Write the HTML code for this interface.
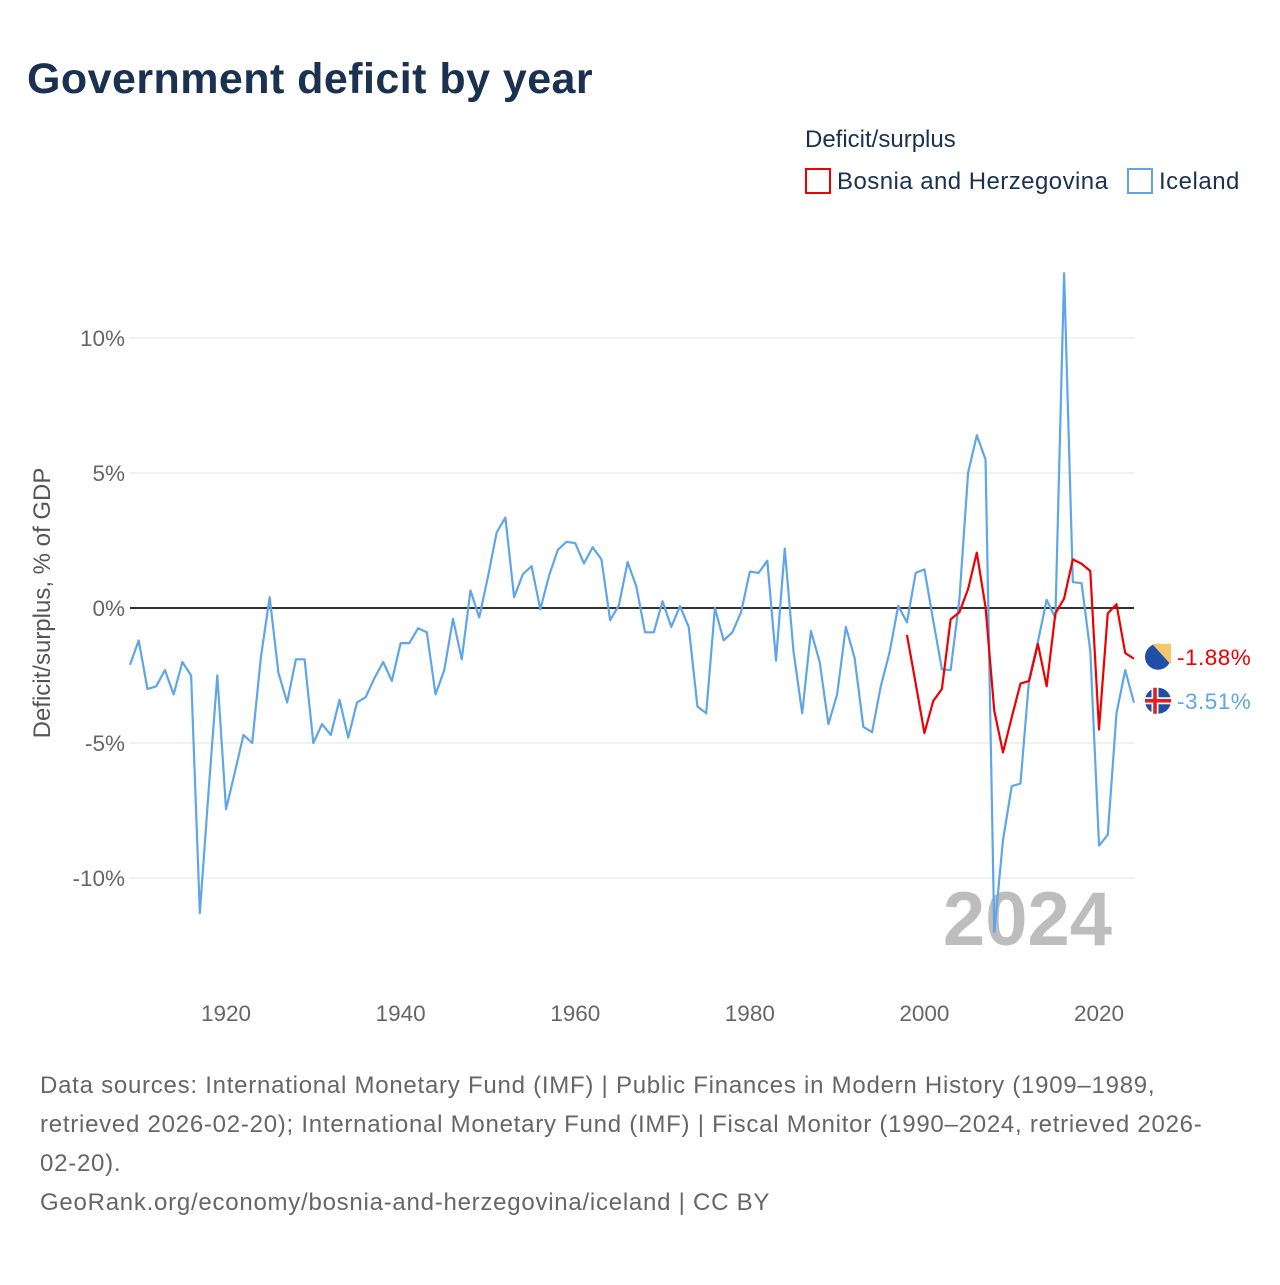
<!DOCTYPE html>
<html><head><meta charset="utf-8"><style>
body{margin:0;background:#fff;font-family:"Liberation Sans",sans-serif}
svg text{font-family:"Liberation Sans",sans-serif}
</style></head><body>
<svg id="chart" width="1280" height="1280" viewBox="0 0 1280 1280" xmlns="http://www.w3.org/2000/svg">
<text x="27" y="93" font-size="43" font-weight="bold" fill="#1b3150" letter-spacing="0.45">Government deficit by year</text>
<text x="805" y="147" font-size="24" fill="#1b3150">Deficit/surplus</text>
<g><rect x="806" y="169" width="24" height="24" fill="none" stroke="#e00" stroke-width="2"/><text x="837" y="189" font-size="24" fill="#1b3150" letter-spacing="0.45">Bosnia and Herzegovina</text></g>
<g><rect x="1128" y="169" width="24" height="24" fill="none" stroke="#5ea6e8" stroke-width="2"/><text x="1159" y="189" font-size="24" fill="#1b3150" letter-spacing="0.5">Iceland</text></g>
<g id="grid"></g>
<text transform="translate(50,603) rotate(-90)" text-anchor="middle" font-size="24" fill="#555">Deficit/surplus, % of GDP</text>
<text x="1112" y="945" text-anchor="end" font-size="76" font-weight="bold" fill="#bdbdbd">2024</text>
<g id="series"></g>
<g font-size="24" fill="#666" letter-spacing="0.75">
<text x="40" y="1093">Data sources: International Monetary Fund (IMF) | Public Finances in Modern History (1909–1989,</text>
<text x="40" y="1132">retrieved 2026-02-20); International Monetary Fund (IMF) | Fiscal Monitor (1990–2024, retrieved 2026-</text>
<text x="40" y="1171">02-20).</text>
<text x="40" y="1210">GeoRank.org/economy/bosnia-and-herzegovina/iceland | CC BY</text>
</g>
</svg>
<script>
const yTicks=[10,5,0,-5,-10];
const xTicks=[1920,1940,1960,1980,2000,2020];
const icelandStart=1909;
const icelandValues=[-2.1,-1.2,-3.0,-2.9,-2.3,-3.2,-2.0,-2.5,-11.3,-6.8,-2.5,-7.45,-6.1,-4.7,-5.0,-1.8,0.4,-2.4,-3.5,-1.9,-1.9,-5.0,-4.3,-4.7,-3.4,-4.8,-3.5,-3.3,-2.6,-2.0,-2.7,-1.3,-1.3,-0.75,-0.9,-3.2,-2.3,-0.4,-1.9,0.65,-0.35,1.15,2.8,3.35,0.4,1.25,1.55,-0.05,1.2,2.15,2.45,2.4,1.65,2.25,1.8,-0.45,0.1,1.7,0.8,-0.9,-0.9,0.25,-0.7,0.07,-0.7,-3.65,-3.9,0,-1.2,-0.9,-0.15,1.35,1.3,1.75,-1.95,2.2,-1.6,-3.9,-0.85,-2.0,-4.3,-3.2,-0.7,-1.85,-4.4,-4.6,-2.9,-1.65,0.08,-0.53,1.3,1.43,-0.45,-2.27,-2.3,0.3,5.0,6.4,5.5,-12.0,-8.6,-6.6,-6.5,-2.6,-1.25,0.3,-0.37,12.4,0.96,0.92,-1.6,-8.8,-8.4,-3.9,-2.3,-3.51];
const bosniaStart=1998;
const bosniaValues=[-1.0,-2.8,-4.63,-3.45,-3.0,-0.42,-0.16,0.7,2.05,0.03,-3.8,-5.35,-4.05,-2.8,-2.7,-1.33,-2.9,-0.2,0.35,1.8,1.64,1.37,-4.5,-0.2,0.14,-1.67,-1.88];
const NS="http://www.w3.org/2000/svg";
const X=yr=>130+(yr-1909)*(1099-226)/100;
const Y=v=>608-v*27;
const grid=document.getElementById('grid'),ser=document.getElementById('series');
function mk(tag,at,par){const e=document.createElementNS(NS,tag);for(const k in at)e.setAttribute(k,at[k]);par.appendChild(e);return e;}
yTicks.forEach(t=>{
 const l=mk('line',{x1:130,x2:1134,y1:Y(t),y2:Y(t),stroke:t===0?'#333':'#e3e3e3','stroke-width':t===0?2:1},grid);
 
 
 const tx=mk('text',{x:125,y:Y(t)+8,'text-anchor':'end','font-size':22.5,fill:'#666'},grid);
 tx.textContent=t+'%';
 
 
});
xTicks.forEach(t=>{
 const tx=mk('text',{x:X(t),y:1021,'text-anchor':'middle','font-size':22.5,fill:'#666'},grid);
 tx.textContent=t;
 
 
});
function line(start,vals,col,name){
 const p=mk('polyline',{points:vals.map((v,i)=>X(start+i)+','+Y(v)).join(' '),fill:'none',stroke:col,'stroke-width':2.2,'stroke-linejoin':'round'},ser);
 
 
}
line(icelandStart,icelandValues,'#5ea6e8','iceland-line');
line(bosniaStart,bosniaValues,'#e00','bosnia-line');
const bv=bosniaValues[bosniaValues.length-1],iv=icelandValues[icelandValues.length-1];
const by=Y(bv)-2,iy=Y(iv)-2;
const fb=mk('g',{},ser);


mk('circle',{cx:1158,cy:by,r:13,fill:'#1f4fa8'},fb);
mk('path',{d:`M${1152},${by-13} L${1171},${by-13} L${1171},${by+8} Z`,fill:'#f6c56e'},fb);
const lb=mk('text',{x:1177,y:by+8,'font-size':22.5,fill:'#e00','letter-spacing':0.5},ser);
lb.textContent=bv.toFixed(2)+'%';


const fi=mk('g',{},ser);


mk('circle',{cx:1158,cy:iy,r:13,fill:'#1e4fa0'},fi);
mk('rect',{x:1145,y:iy-3.5,width:26,height:7,fill:'#fff'},fi);
mk('rect',{x:1151.5,y:iy-13,width:7,height:26,fill:'#fff'},fi);
mk('rect',{x:1145,y:iy-1.8,width:26,height:3.6,fill:'#e02020'},fi);
mk('rect',{x:1153.2,y:iy-13,width:3.6,height:26,fill:'#e02020'},fi);
const li=mk('text',{x:1177,y:iy+8,'font-size':22.5,fill:'#5ea6e8','letter-spacing':0.5},ser);
li.textContent=iv.toFixed(2)+'%';


</script>
</body></html>
